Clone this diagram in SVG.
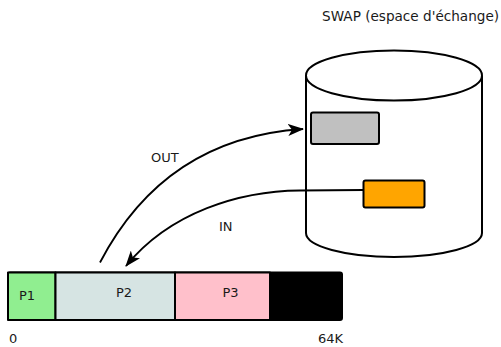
<svg xmlns="http://www.w3.org/2000/svg" width="501" height="347" viewBox="0 0 501 347">
<style>
text{font-family:"DejaVu Sans","Liberation Sans",sans-serif;font-size:13px;fill:#1a1a1a}
.s{stroke:#000;stroke-width:2;stroke-linejoin:round}
.c{fill:none;stroke:#000;stroke-width:1.8}
</style>
<defs>
<marker id="ah" viewBox="0 0 16 12" refX="15" refY="6" markerWidth="16" markerHeight="12" markerUnits="userSpaceOnUse" orient="auto">
<path d="M0,0 L16,6 L0,12 L4,6 z" fill="#000"/>
</marker>
</defs>
<rect width="501" height="347" fill="#fff"/>
<g id="swap">
<path class="s" fill="#fff" d="M306,76 L306,233 A88,24 0 0 0 482,233 L482,76"/>
<ellipse class="s" fill="#fff" cx="394" cy="75.5" rx="88" ry="25"/>
<text x="322" y="21" style="font-size:13.6px">SWAP (espace d'échange)</text>
</g>
<g id="page-out">
<rect class="s" x="311" y="112.5" width="68" height="31.5" rx="2" fill="#c0c0c0"/>
</g>
<g id="page-in">
<rect class="s" x="363.5" y="180.5" width="61" height="27" rx="2" fill="#ffa500"/>
</g>
<g id="memory">
<rect class="s" x="8" y="272.5" width="334" height="47.5" rx="2" fill="#000"/>
<rect class="s" x="8" y="272.5" width="47.5" height="47.5" fill="#90ee90"/>
<rect class="s" x="55.5" y="272.5" width="119.5" height="47.5" fill="#d6e4e3"/>
<rect class="s" x="175" y="272.5" width="95" height="47.5" fill="#ffc0cb"/>
<text x="19" y="300">P1</text>
<text x="116" y="296.5">P2</text>
<text x="222.5" y="296.5">P3</text>
<text x="9" y="343">0</text>
<text x="318" y="343">64K</text>
</g>
<g id="connectors">
<path class="c" d="M100,262.5 Q165,138 303,129" marker-end="url(#ah)"/>
<path class="c" d="M363,190 L300,190.5 C240,191 170,212 126,266" marker-end="url(#ah)"/>
<text x="151" y="161.5">OUT</text>
<text x="219" y="231">IN</text>
</g>
</svg>
